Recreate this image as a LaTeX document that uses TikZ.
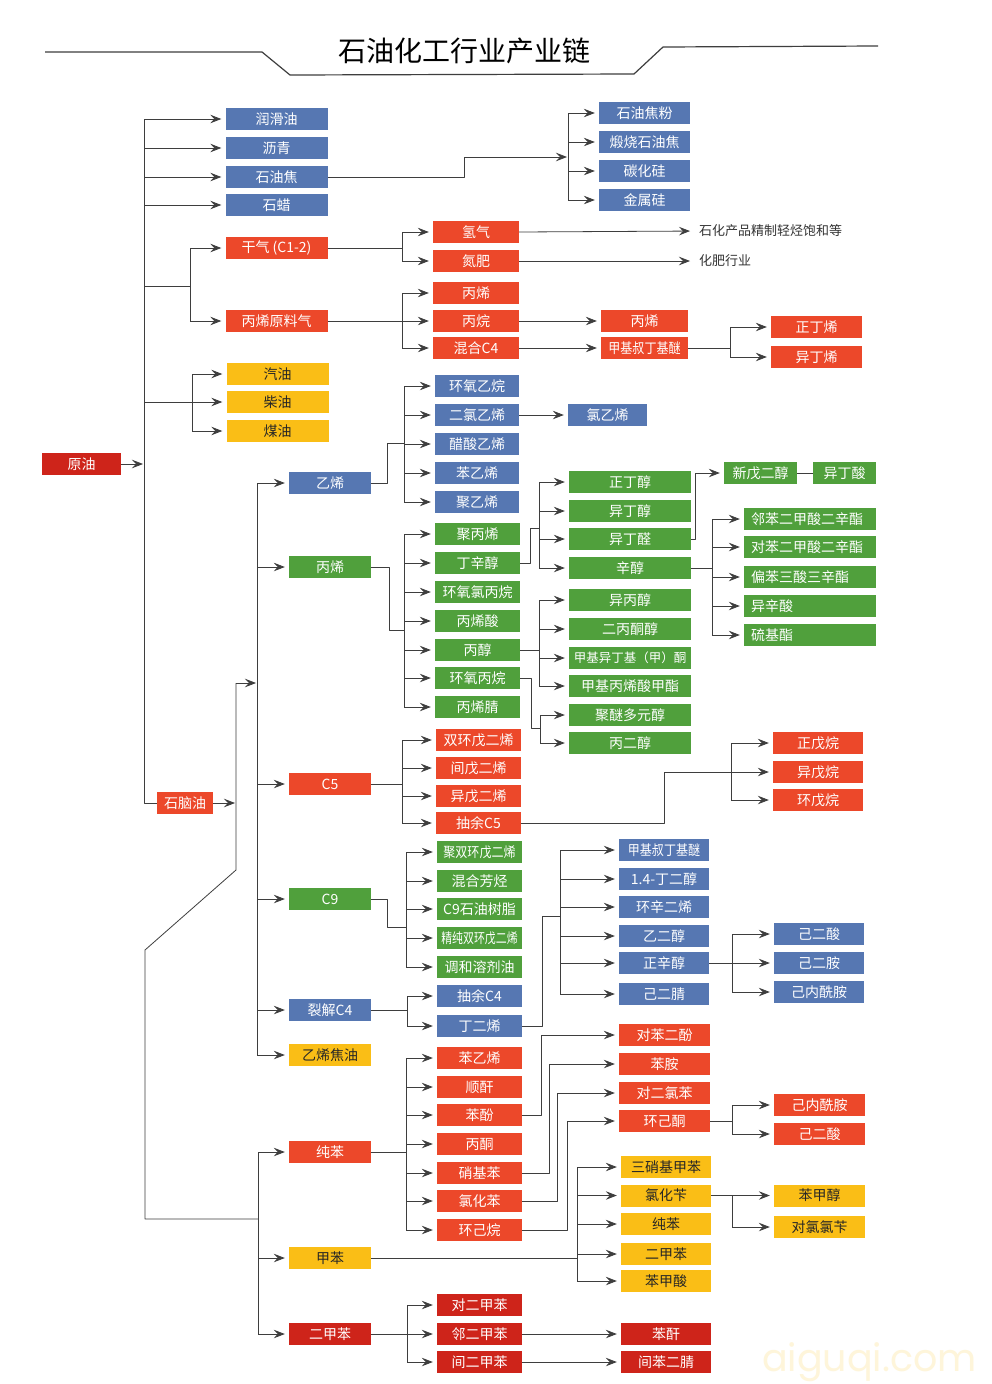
\documentclass[tikz,border=0pt]{standalone}
\usepackage{fontspec}
\usepackage{graphicx}
\newfontfamily\cjk{Noto Sans CJK SC}
\newfontfamily\wmfont{Poppins}
\usetikzlibrary{arrows.meta}
\definecolor{cblue}{RGB}{86,119,178}
\definecolor{cred}{RGB}{236,72,42}
\definecolor{cdred}{RGB}{206,36,26}
\definecolor{cgreen}{RGB}{80,160,60}
\definecolor{cyellow}{RGB}{250,190,22}
\definecolor{cline}{RGB}{62,62,62}
\newcommand\bxfont{\cjk\fontsize{14}{16}\selectfont}
\newcommand\narrow[1]{\scalebox{0.86}[1]{#1}}
\tikzset{
  box/.style={minimum height=22pt, inner sep=0pt, font=\bxfont, text=white},
  bbox/.style={box, fill=cblue},
  rbox/.style={box, fill=cred},
  dbox/.style={box, fill=cdred},
  gbox/.style={box, fill=cgreen},
  ybox/.style={box, fill=cyellow, text=black!85},
  lbox/.style={gbox, text width=118pt, align=left, inner xsep=7pt},
  link/.style={draw=cline, line width=0.8pt},
  arr/.style={link, -{Stealth[length=11pt,width=8.5pt,inset=4pt]}, shorten >=4pt},
  arrb/.style={arr, shorten >=1pt},
}
\begin{document}
\begin{tikzpicture}[x=1pt,y=-1pt,line join=round]
\useasboundingbox (0,0) rectangle (992,1384);
\fill[white] (0,0) rectangle (992,1384);

% title
\node[font=\cjk\fontsize{28}{30}\selectfont] (title) at (464,51) {石油化工行业产业链};
\draw[cline, line width=1.2pt] (45,52) -- (262,52) -- (290,75) -- (634,74) -- (663,47) -- (878,46);

% crude oil and first products
\node[dbox, minimum width=79pt] (yuanyou) at (81.5,464) {原油};
\foreach \n/\y/\t in {runhua/119/润滑油, liqing/148/沥青, jiao/177/石油焦, shila/205/石蜡}
  \node[bbox, minimum width=102pt] (\n) at (276.5,\y) {\t};
\foreach \n/\y/\t in {ganqi/248/干气 (C1-2), bingyuan/321/丙烯原料气}
  \node[rbox, minimum width=102pt] (\n) at (276.5,\y) {\t};
\foreach \n/\y/\t in {qiyou/374/汽油, chaiyou/402/柴油, meiyou/431/煤油}
  \node[ybox, minimum width=102pt] (\n) at (277.5,\y) {\t};
\node[rbox, minimum width=56pt] (naoyou) at (185,803) {石脑油};

% petroleum coke
\foreach \n/\y/\t in {jiaofen/113/石油焦粉, duanshao/142/煅烧石油焦, tanhuagui/171/碳化硅, jinshugui/200/金属硅}
  \node[bbox, minimum width=91pt] (\n) at (644.5,\y) {\t};

% gases
\foreach \n/\y/\t in {qingqi/232/氢气, danfei/261/氮肥, bingxi1/293/丙烯, bingwan/321/丙烷, hunc4/348/混合C4}
  \node[rbox, minimum width=86pt] (\n) at (476,\y) {\t};
\node[anchor=west, inner sep=0pt, font=\cjk\fontsize{13}{15}\selectfont, text=black!80] (txtA) at (699,231) {石化产品精制轻烃饱和等};
\node[anchor=west, inner sep=0pt, font=\cjk\fontsize{13}{15}\selectfont, text=black!80] (txtB) at (699,261) {化肥行业};
\node[rbox, minimum width=87pt] (bingxi2) at (644.5,321) {丙烯};
\node[rbox, minimum width=87pt] (mtbe1) at (644.5,348) {\narrow{甲基叔丁基醚}};
\node[rbox, minimum width=91pt] (zhengding) at (816.5,327) {正丁烯};
\node[rbox, minimum width=91pt] (yiding) at (816.5,357) {异丁烯};

% naphtha products
\node[bbox, minimum width=82pt] (yixi) at (330,483) {乙烯};
\node[gbox, minimum width=82pt] (bingxi) at (330,567) {丙烯};
\node[rbox, minimum width=82pt] (c5) at (330,784) {C5};
\node[gbox, minimum width=82pt] (c9) at (330,899) {C9};
\node[bbox, minimum width=82pt] (liejie) at (330,1010) {裂解C4};
\node[ybox, minimum width=82pt] (jiaoyou) at (330,1055) {乙烯焦油};
\node[rbox, minimum width=82pt] (chunben) at (330,1152) {纯苯};
\node[ybox, minimum width=82pt] (jiaben) at (330,1258) {甲苯};
\node[dbox, minimum width=82pt] (erjiaben) at (330,1334) {二甲苯};

% ethylene
\foreach \n/\y/\t in {hyyw/386/环氧乙烷, erlv/415/二氯乙烯, cusuan/444/醋酸乙烯, benyixi1/473/苯乙烯, juyixi/502/聚乙烯}
  \node[bbox, minimum width=84pt] (\n) at (477,\y) {\t};
\node[bbox, minimum width=79pt] (lvyixi) at (607.5,415) {氯乙烯};

% propylene
\foreach \n/\y/\t in {jubing/534/聚丙烯, dingxin/563/丁辛醇, hylv/592/环氧氯丙烷, bingxisuan/621/丙烯酸, bingchun/650/丙醇, hybw/678/环氧丙烷, bingxijing/707/丙烯腈}
  \node[gbox, minimum width=85pt] (\n) at (477.5,\y) {\t};
\foreach \n/\y/\t in {zdc/482/正丁醇, ydc/511/异丁醇, ydq/539/异丁醛, xinchun/568/辛醇, ybc/600/异丙醇, ebtc/629/二丙酮醇, mma/686/甲基丙烯酸甲酯, jumi/715/聚醚多元醇, bingerchun/743/丙二醇}
  \node[gbox, minimum width=122pt] (\n) at (630,\y) {\t};
\node[gbox, minimum width=122pt, font=\cjk\fontsize{12.5}{14}\selectfont] (mibk) at (630,658) {甲基异丁基（甲）酮};
\node[gbox, minimum width=73pt] (xinwu) at (760.5,473) {新戊二醇};
\node[gbox, minimum width=63pt] (yidingsuan) at (844.5,473) {异丁酸};
\foreach \n/\y/\t in {dop/519/邻苯二甲酸二辛酯, dotp/547/对苯二甲酸二辛酯, totm/577/偏苯三酸三辛酯, yixinsuan/606/异辛酸, liuji/635/硫基酯}
  \node[lbox] (\n) at (810,\y) {\t};

% C5
\foreach \n/\y/\t in {shuanghuan/740/双环戊二烯, jianwu/768/间戊二烯, yiwu/796/异戊二烯, chouyu5/823/抽余C5}
  \node[rbox, minimum width=85pt] (\n) at (478.5,\y) {\t};
\foreach \n/\y/\t in {zhengwuwan/743/正戊烷, yiwuwan/772/异戊烷, huanwuwan/800/环戊烷}
  \node[rbox, minimum width=90pt] (\n) at (818,\y) {\t};

% C9
\foreach \n/\y/\t in {hunhe/881/混合芳烃, c9shu/909/C9石油树脂, tiaohe/967/调和溶剂油}
  \node[gbox, minimum width=85pt] (\n) at (479.5,\y) {\t};
\node[gbox, minimum width=85pt] (jushuang) at (479.5,852) {\narrow{聚双环戊二烯}};
\node[gbox, minimum width=85pt] (jingchun) at (479.5,938) {\scalebox{0.78}[1]{精纯双环戊二烯}};

% C4
\foreach \n/\y/\t in {chouyu4/996/抽余C4, dinger/1026/丁二烯}
  \node[bbox, minimum width=85pt] (\n) at (479.5,\y) {\t};
\foreach \n/\y/\t in {bdo/879/1.4-丁二醇, huanxin/907/环辛二烯, yierchun/936/乙二醇, zxc/963/正辛醇, jierjing/994/己二腈}
  \node[bbox, minimum width=90pt] (\n) at (664,\y) {\t};
\node[bbox, minimum width=90pt] (mtbe2) at (664,850) {\narrow{甲基叔丁基醚}};
\foreach \n/\y/\t in {jiersuan1/934/己二酸, jieran/963/己二胺, jineixian1/992/己内酰胺}
  \node[bbox, minimum width=90pt] (\n) at (819,\y) {\t};

% benzene
\foreach \n/\y/\t in {benyixi2/1058/苯乙烯, shungan/1087/顺酐, benfen/1115/苯酚, bingtong/1144/丙酮, xiaojiben/1173/硝基苯, lvhuaben/1201/氯化苯, huanjiwan/1230/环己烷}
  \node[rbox, minimum width=85pt] (\n) at (479.5,\y) {\t};
\foreach \n/\y/\t in {duiben/1035/对苯二酚, benan/1064/苯胺, duierlv/1093/对二氯苯, huanjitong/1121/环己酮}
  \node[rbox, minimum width=91pt] (\n) at (664.5,\y) {\t};
\node[rbox, minimum width=91pt] (jineixian2) at (819.5,1105) {己内酰胺};
\node[rbox, minimum width=91pt] (jiersuan2) at (819.5,1134) {己二酸};

% toluene
\foreach \n/\y/\t in {sanxiao/1167/三硝基甲苯, lvhuabian/1195.5/氯化苄, chunben2/1224/纯苯, erjiaben2/1254/二甲苯, benjiasuan/1281/苯甲酸}
  \node[ybox, minimum width=90pt] (\n) at (666,\y) {\t};
\node[ybox, minimum width=91pt] (benjiachun) at (819.5,1195.5) {苯甲醇};
\node[ybox, minimum width=91pt] (duilvlv) at (819.5,1227) {对氯氯苄};

% xylene
\foreach \n/\y/\t in {duierjia/1305/对二甲苯, linerjia/1334/邻二甲苯, jianerjia/1362/间二甲苯}
  \node[dbox, minimum width=85pt] (\n) at (479.5,\y) {\t};
\node[dbox, minimum width=90pt] (bengan) at (666,1334) {苯酐};
\node[dbox, minimum width=90pt] (jianbenjing) at (666,1362) {间苯二腈};

% watermark
\node[anchor=west, inner sep=0pt, font=\wmfont\fontsize{38}{40}\selectfont, text=cyellow!16] (wm) at (762,1362) {aiguqi.com};

% ---- connectors ----
\coordinate (busA) at (144,0);
\draw[arrb] (yuanyou.east) -- (busA |- yuanyou);
\draw[link] (busA |- runhua) -- (busA |- naoyou) -- (naoyou.west);
\foreach \n in {runhua,liqing,jiao,shila,chaiyou}
  \draw[arr] (busA |- \n) -- (\n.west);
\coordinate (busB) at (190,286);
\draw[link] (busA |- busB) -- (busB);
\draw[link] (busB |- ganqi) -- (busB |- bingyuan);
\foreach \n in {ganqi,bingyuan}
  \draw[arr] (busB |- \n) -- (\n.west);
\coordinate (busC) at (192,0);
\draw[link] (busC |- qiyou) -- (busC |- meiyou);
\foreach \n in {qiyou,meiyou}
  \draw[arr] (busC |- \n) -- (\n.west);

% coke
\coordinate (busJ) at (568,157);
\draw[arrb] (jiao.east) -| (464,157) -- (busJ);
\draw[link] (busJ |- jiaofen) -- (busJ |- jinshugui);
\foreach \n in {jiaofen,duanshao,tanhuagui,jinshugui}
  \draw[arr] (busJ |- \n) -- (\n.west);

% gases
\coordinate (busG) at (402,0);
\draw[link] (ganqi.east) -- (busG |- ganqi);
\draw[link] (busG |- qingqi) -- (busG |- danfei);
\draw[link] (bingyuan.east) -- (busG |- bingyuan);
\draw[link] (busG |- bingxi1) -- (busG |- hunc4);
\foreach \n in {qingqi,danfei,bingxi1,bingwan,hunc4}
  \draw[arr] (busG |- \n) -- (\n.west);
\draw[arr, shorten >=9pt] (qingqi.east) -- (txtA.west);
\draw[arr, shorten >=9pt] (danfei.east) -- (txtB.west);
\draw[arr] (bingwan.east) -- (bingxi2.west);
\draw[arr] (hunc4.east) -- (mtbe1.west);
\coordinate (busM) at (730,0);
\draw[link] (mtbe1.east) -- (busM |- mtbe1);
\draw[link] (busM |- zhengding) -- (busM |- yiding);
\foreach \n in {zhengding,yiding}
  \draw[arr] (busM |- \n) -- (\n.west);

% naphtha
\coordinate (busN) at (236,683);
\coordinate (busT) at (257,0);
\coordinate (busU) at (258,1219);
\draw[arrb] (naoyou.east) -- (busN |- naoyou);
\draw[arrb] (busN) -- (busT |- busN);
\draw[link] (busN) -- (236,870) -- (145,950) -- (145,1219) -- (busU);
\draw[link] (busT |- yixi) -- (busT |- jiaoyou);
\foreach \n in {yixi,bingxi,c5,c9,liejie,jiaoyou}
  \draw[arr] (busT |- \n) -- (\n.west);
\draw[link] (busU |- chunben) -- (busU |- erjiaben);
\foreach \n in {chunben,jiaben,erjiaben}
  \draw[arr] (busU |- \n) -- (\n.west);

% ethylene
\coordinate (busE) at (404,0);
\draw[link] (yixi.east) -| (387,443) -- (404,443);
\draw[link] (busE |- hyyw) -- (busE |- juyixi);
\foreach \n in {hyyw,erlv,cusuan,benyixi1,juyixi}
  \draw[arr] (busE |- \n) -- (\n.west);
\draw[arr] (erlv.east) -- (lvyixi.west);

% propylene
\draw[link] (bingxi.east) -| (389,630) -- (404,630);
\draw[link] (busE |- jubing) -- (busE |- bingxijing);
\foreach \n in {jubing,dingxin,hylv,bingxisuan,bingchun,hybw,bingxijing}
  \draw[arr] (busE |- \n) -- (\n.west);
\coordinate (busD) at (539,0);
\draw[link] (dingxin.east) -| (530,528) -- (539,528);
\draw[link] (busD |- zdc) -- (busD |- xinchun);
\draw[link] (bingchun.east) -- (busD |- bingchun);
\draw[link] (busD |- ybc) -- (busD |- mma);
\foreach \n in {zdc,ydc,ydq,xinchun,ybc,ebtc,mibk,mma}
  \draw[arr] (busD |- \n) -- (\n.west);
\draw[arr] (ydq.east) -- ++(4,0) |- (xinwu.west);
\draw[link] (xinwu.east) -- (yidingsuan.west);
\coordinate (busX) at (712,0);
\draw[link] (xinchun.east) -- (busX |- xinchun);
\draw[link] (busX |- dop) -- (busX |- liuji);
\foreach \n in {dop,dotp,totm,yixinsuan,liuji}
  \draw[arr] (busX |- \n) -- (\n.west);
\coordinate (busP) at (540,0);
\draw[link] (hybw.east) -| (531,728) -- (540,728);
\draw[link] (busP |- jumi) -- (busP |- bingerchun);
\foreach \n in {jumi,bingerchun}
  \draw[arr] (busP |- \n) -- (\n.west);

% C5
\coordinate (busF) at (402,0);
\draw[link] (c5.east) -- (busF |- c5);
\draw[link] (busF |- shuanghuan) -- (busF |- chouyu5);
\foreach \n in {shuanghuan,jianwu,yiwu,chouyu5}
  \draw[arr] (busF |- \n) -- (\n.west);
\coordinate (busW) at (731,0);
\draw[arr] (chouyu5.east) -| (664,772) -- (yiwuwan.west);
\draw[link] (busW |- zhengwuwan) -- (busW |- huanwuwan);
\foreach \n in {zhengwuwan,huanwuwan}
  \draw[arr] (busW |- \n) -- (\n.west);

% C9
\coordinate (busH) at (406,0);
\draw[link] (c9.east) -| (387,927) -- (406,927);
\draw[link] (busH |- jushuang) -- (busH |- tiaohe);
\foreach \n in {jushuang,hunhe,c9shu,jingchun,tiaohe}
  \draw[arr] (busH |- \n) -- (\n.west);

% C4
\coordinate (busK) at (407,0);
\draw[link] (liejie.east) -- (busK |- liejie);
\draw[link] (busK |- chouyu4) -- (busK |- dinger);
\foreach \n in {chouyu4,dinger}
  \draw[arr] (busK |- \n) -- (\n.west);
\coordinate (busQ) at (560,0);
\draw[link] (dinger.east) -| (542,916) -- (560,916);
\draw[link] (busQ |- mtbe2) -- (busQ |- jierjing);
\foreach \n in {mtbe2,bdo,huanxin,yierchun,zxc,jierjing}
  \draw[arr] (busQ |- \n) -- (\n.west);
\coordinate (busR) at (732,0);
\draw[arr] (zxc.east) -- (jieran.west);
\draw[link] (busR |- jiersuan1) -- (busR |- jineixian1);
\foreach \n in {jiersuan1,jineixian1}
  \draw[arr] (busR |- \n) -- (\n.west);

% benzene
\draw[link] (chunben.east) -- (busH |- chunben);
\draw[link] (busH |- benyixi2) -- (busH |- huanjiwan);
\foreach \n in {benyixi2,shungan,benfen,bingtong,xiaojiben,lvhuaben,huanjiwan}
  \draw[arr] (busH |- \n) -- (\n.west);
\draw[arr] (benfen.east) -- ++(19,0) |- (duiben.west);
\draw[arr] (xiaojiben.east) -- ++(27,0) |- (benan.west);
\draw[arr] (lvhuaben.east) -- ++(35,0) |- (duierlv.west);
\draw[arr] (huanjiwan.east) -- ++(45,0) |- (huanjitong.west);
\draw[link] (huanjitong.east) -- (busR |- huanjitong);
\draw[link] (busR |- jineixian2) -- (busR |- jiersuan2);
\foreach \n in {jineixian2,jiersuan2}
  \draw[arr] (busR |- \n) -- (\n.west);

% toluene
\coordinate (busY) at (577,0);
\draw[link] (jiaben.east) -- (busY |- jiaben);
\draw[link] (busY |- sanxiao) -- (busY |- benjiasuan);
\foreach \n in {sanxiao,lvhuabian,chunben2,erjiaben2,benjiasuan}
  \draw[arr] (busY |- \n) -- (\n.west);
\draw[arr] (lvhuabian.east) -- (benjiachun.west);
\draw[link] (busR |- lvhuabian) -- (busR |- duilvlv);
\draw[arr] (busR |- duilvlv) -- (duilvlv.west);

% xylene
\draw[link] (erjiaben.east) -- (busK |- erjiaben);
\draw[link] (busK |- duierjia) -- (busK |- jianerjia);
\foreach \n in {duierjia,linerjia,jianerjia}
  \draw[arr] (busK |- \n) -- (\n.west);
\draw[arr] (linerjia.east) -- (bengan.west);
\draw[arr] (jianerjia.east) -- (jianbenjing.west);
\end{tikzpicture}
\end{document}
